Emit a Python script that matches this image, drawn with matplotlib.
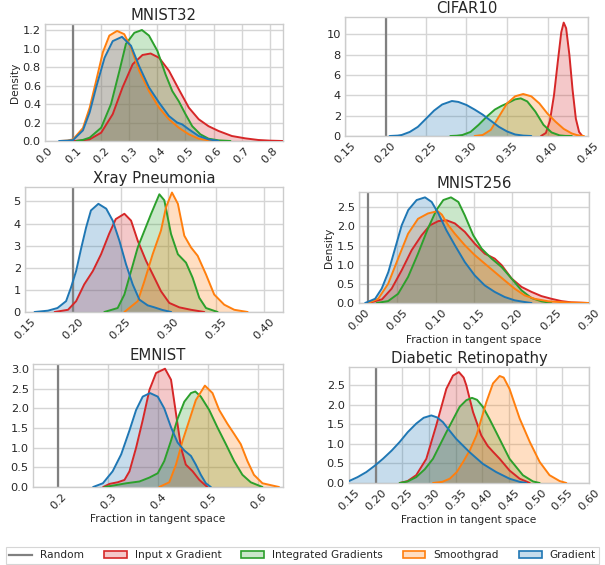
import matplotlib
matplotlib.use("Agg")
import matplotlib.pyplot as plt
from matplotlib.lines import Line2D
from matplotlib.patches import Patch

# ---------------- data ----------------
METHODS = ["Input x Gradient", "Integrated Gradients", "Smoothgrad", "Gradient"]
COLORS = ["#d62728", "#2ca02c", "#ff7f0e", "#1f77b4"]
TITLES = ["MNIST32", "CIFAR10", "Xray Pneumonia", "MNIST256", "EMNIST", "Diabetic Retinopathy"]
RANDOM = [0.1, 0.2, 0.2, 0.0122, 0.2, 0.2]

# MNIST32
M32_IXG_X = [0.10, 0.125, 0.159, 0.20, 0.241, 0.276, 0.312, 0.347, 0.376, 0.406, 0.441, 0.476, 0.512, 0.547, 0.582, 0.618, 0.665, 0.712, 0.759, 0.80, 0.845]
M32_IXG_Y = [0.0, 0.005, 0.018, 0.09, 0.29, 0.58, 0.83, 0.93, 0.946, 0.90, 0.76, 0.56, 0.36, 0.235, 0.16, 0.108, 0.054, 0.029, 0.011, 0.004, 0.0]
M32_IG_X = [0.112, 0.135, 0.159, 0.20, 0.235, 0.265, 0.288, 0.318, 0.345, 0.37, 0.40, 0.429, 0.453, 0.476, 0.50, 0.524, 0.553, 0.582, 0.618, 0.66]
M32_IG_Y = [0.0, 0.012, 0.036, 0.144, 0.40, 0.76, 1.05, 1.17, 1.20, 1.14, 0.975, 0.72, 0.54, 0.43, 0.29, 0.16, 0.072, 0.025, 0.007, 0.0]
M32_SG_X = [0.053, 0.08, 0.10, 0.135, 0.159, 0.182, 0.206, 0.229, 0.2565, 0.282, 0.306, 0.335, 0.37, 0.406, 0.441, 0.476, 0.512, 0.547, 0.582, 0.61]
M32_SG_Y = [0.0, 0.005, 0.018, 0.14, 0.36, 0.65, 0.96, 1.14, 1.19, 1.155, 1.01, 0.76, 0.54, 0.36, 0.235, 0.144, 0.072, 0.025, 0.007, 0.0]
M32_GR_X = [0.05, 0.08, 0.10, 0.135, 0.159, 0.182, 0.212, 0.241, 0.274, 0.306, 0.335, 0.37, 0.406, 0.441, 0.47, 0.488, 0.512, 0.547, 0.582, 0.618]
M32_GR_Y = [0.0, 0.004, 0.01, 0.115, 0.31, 0.58, 0.90, 1.08, 1.126, 1.03, 0.81, 0.58, 0.415, 0.27, 0.20, 0.18, 0.126, 0.054, 0.018, 0.0]

# CIFAR10
C10_IXG_X = [0.392, 0.398, 0.403, 0.408, 0.413, 0.417, 0.420, 0.423, 0.427, 0.431, 0.435, 0.439, 0.443]
C10_IXG_Y = [0.0, 0.3, 1.5, 4.0, 7.5, 10.2, 11.15, 10.6, 8.0, 4.5, 1.7, 0.4, 0.0]
C10_IG_X = [0.28, 0.288, 0.295, 0.305, 0.315, 0.325, 0.335, 0.343, 0.35, 0.36, 0.367, 0.375, 0.385, 0.395, 0.405, 0.415, 0.422, 0.43]
C10_IG_Y = [0.0, 0.03, 0.1, 0.4, 1.1, 1.9, 2.6, 2.95, 3.2, 3.6, 3.7, 3.4, 2.4, 1.1, 0.35, 0.06, 0.01, 0.0]
C10_SG_X = [0.31, 0.32, 0.33, 0.34, 0.35, 0.36, 0.37, 0.38, 0.39, 0.40, 0.41, 0.42, 0.43, 0.436, 0.44, 0.445]
C10_SG_Y = [0.0, 0.1, 0.6, 1.9, 3.2, 3.9, 4.13, 3.9, 3.2, 2.2, 1.4, 0.7, 0.25, 0.1, 0.04, 0.0]
C10_GR_X = [0.205, 0.215, 0.22, 0.23, 0.24, 0.25, 0.26, 0.27, 0.282, 0.29, 0.30, 0.31, 0.32, 0.33, 0.34, 0.35, 0.36, 0.37, 0.38]
C10_GR_Y = [0.0, 0.04, 0.1, 0.4, 0.9, 1.7, 2.5, 3.1, 3.44, 3.35, 3.05, 2.6, 2.1, 1.5, 0.9, 0.45, 0.15, 0.04, 0.0]

# Xray Pneumonia
XR_IXG_X = [0.181, 0.195, 0.2035, 0.212, 0.221, 0.2296, 0.238, 0.245, 0.254, 0.261, 0.268, 0.2767, 0.2854, 0.2923, 0.301, 0.3115, 0.3237, 0.3376]
XR_IXG_Y = [0.0, 0.10, 0.49, 1.25, 1.85, 2.61, 3.53, 4.20, 4.44, 4.13, 3.22, 2.31, 1.55, 0.94, 0.41, 0.21, 0.10, 0.0]
XR_IG_X = [0.233, 0.247, 0.254, 0.261, 0.268, 0.275, 0.282, 0.2906, 0.2958, 0.3028, 0.31, 0.3185, 0.3254, 0.3324, 0.3394, 0.3516]
XR_IG_Y = [0.0, 0.18, 0.79, 1.85, 2.92, 3.68, 4.44, 5.32, 5.05, 3.53, 2.61, 2.23, 1.55, 0.64, 0.18, 0.0]
XR_SG_X = [0.254, 0.268, 0.275, 0.2836, 0.2923, 0.2976, 0.3038, 0.31, 0.3167, 0.3237, 0.3307, 0.3394, 0.348, 0.3585, 0.369, 0.383]
XR_SG_Y = [0.0, 0.49, 1.40, 2.61, 3.68, 4.74, 5.40, 4.89, 3.45, 2.92, 2.54, 1.70, 0.79, 0.33, 0.10, 0.0]
XR_GR_X = [0.16, 0.174, 0.184, 0.193, 0.198, 0.2035, 0.209, 0.214, 0.219, 0.2268, 0.235, 0.2418, 0.2488, 0.2557, 0.2627, 0.2697, 0.2784, 0.2854, 0.294, 0.303]
XR_GR_Y = [0.0, 0.06, 0.18, 0.49, 1.09, 1.85, 2.92, 3.83, 4.59, 4.89, 4.67, 4.13, 3.22, 2.16, 1.25, 0.56, 0.30, 0.21, 0.09, 0.0]

# MNIST256
M256_IXG_X = [0.012, 0.03, 0.0426, 0.0557, 0.0687, 0.0817, 0.0926, 0.1035, 0.1143, 0.125, 0.138, 0.151, 0.164, 0.177, 0.186, 0.199, 0.212, 0.225, 0.238, 0.251, 0.264, 0.277, 0.30]
M256_IXG_Y = [0.0, 0.096, 0.375, 0.855, 1.38, 1.77, 2.03, 2.14, 2.16, 2.08, 1.86, 1.55, 1.29, 1.16, 0.99, 0.64, 0.42, 0.29, 0.18, 0.11, 0.05, 0.017, 0.0]
M256_IG_X = [0.023, 0.038, 0.051, 0.064, 0.077, 0.09, 0.101, 0.11, 0.12, 0.1296, 0.138, 0.149, 0.16, 0.173, 0.186, 0.199, 0.212, 0.225, 0.238, 0.251]
M256_IG_Y = [0.0, 0.05, 0.24, 0.68, 1.29, 1.95, 2.43, 2.69, 2.76, 2.64, 2.29, 1.77, 1.42, 1.16, 0.94, 0.64, 0.33, 0.13, 0.044, 0.0]
M256_SG_X = [0.012, 0.025, 0.038, 0.051, 0.064, 0.077, 0.09, 0.1026, 0.108, 0.1165, 0.125, 0.138, 0.151, 0.164, 0.177, 0.19, 0.203, 0.216, 0.229, 0.247, 0.269, 0.30]
M256_SG_Y = [0.0, 0.11, 0.50, 1.16, 1.81, 2.20, 2.34, 2.40, 2.31, 2.03, 1.81, 1.51, 1.25, 1.03, 0.81, 0.59, 0.375, 0.20, 0.11, 0.044, 0.017, 0.0]
M256_GR_X = [0.008, 0.021, 0.0296, 0.0383, 0.047, 0.0557, 0.0643, 0.0752, 0.0861, 0.0948, 0.1035, 0.114, 0.125, 0.138, 0.151, 0.164, 0.177, 0.19, 0.203, 0.216, 0.225]
M256_GR_Y = [0.0, 0.11, 0.375, 0.81, 1.42, 2.03, 2.43, 2.69, 2.76, 2.64, 2.34, 1.90, 1.51, 1.07, 0.72, 0.46, 0.29, 0.157, 0.07, 0.026, 0.0]

# EMNIST
EM_IXG_X = [0.29, 0.303, 0.319, 0.3326, 0.3426, 0.3558, 0.369, 0.3824, 0.3956, 0.4135, 0.4255, 0.4354, 0.4454, 0.455, 0.4686, 0.482, 0.498]
EM_IXG_Y = [0.0, 0.08, 0.12, 0.18, 0.40, 1.00, 1.70, 2.47, 2.90, 3.01, 2.73, 1.87, 1.00, 0.57, 0.40, 0.18, 0.0]
EM_IG_X = [0.293, 0.316, 0.336, 0.3625, 0.3824, 0.399, 0.412, 0.4255, 0.4387, 0.452, 0.4653, 0.474, 0.485, 0.5017, 0.518, 0.535, 0.5515, 0.568, 0.5846, 0.608]
EM_IG_Y = [0.0, 0.05, 0.095, 0.14, 0.24, 0.35, 0.66, 1.18, 1.74, 2.17, 2.39, 2.43, 2.30, 1.96, 1.52, 1.09, 0.66, 0.31, 0.12, 0.0]
EM_SG_X = [0.402, 0.422, 0.4354, 0.4487, 0.462, 0.475, 0.4931, 0.5083, 0.5216, 0.538, 0.5515, 0.5647, 0.578, 0.591, 0.608, 0.641]
EM_SG_Y = [0.0, 0.12, 0.57, 1.18, 1.70, 2.21, 2.58, 2.39, 1.96, 1.61, 1.35, 1.09, 0.66, 0.31, 0.095, 0.0]
EM_GR_X = [0.27, 0.2895, 0.309, 0.326, 0.3426, 0.3558, 0.369, 0.3837, 0.399, 0.412, 0.4255, 0.4387, 0.452, 0.4653, 0.475, 0.485, 0.495, 0.505]
EM_GR_Y = [0.0, 0.095, 0.40, 0.83, 1.44, 1.96, 2.30, 2.39, 2.30, 2.00, 1.52, 1.13, 0.93, 0.79, 0.57, 0.31, 0.095, 0.0]

# Diabetic Retinopathy
DR_IXG_X = [0.245, 0.26, 0.276, 0.295, 0.3137, 0.3325, 0.345, 0.356, 0.365, 0.37, 0.3825, 0.398, 0.41, 0.42, 0.4325, 0.451, 0.47, 0.489]
DR_IXG_Y = [0.0, 0.05, 0.2, 0.62, 1.48, 2.41, 2.75, 2.84, 2.7, 2.5, 1.82, 1.22, 0.95, 0.8, 0.62, 0.32, 0.11, 0.0]
DR_IG_X = [0.245, 0.26, 0.276, 0.292, 0.3075, 0.3325, 0.3575, 0.37, 0.3806, 0.39, 0.401, 0.413, 0.426, 0.451, 0.476, 0.495, 0.5075]
DR_IG_Y = [0.0, 0.04, 0.15, 0.35, 0.62, 1.3, 1.95, 2.12, 2.18, 2.13, 1.95, 1.65, 1.3, 0.62, 0.2, 0.04, 0.0]
DR_SG_X = [0.3075, 0.325, 0.339, 0.352, 0.364, 0.377, 0.389, 0.4075, 0.42, 0.4325, 0.44, 0.451, 0.46, 0.47, 0.489, 0.5075, 0.526, 0.545, 0.5575]
DR_SG_Y = [0.0, 0.03, 0.11, 0.28, 0.54, 0.85, 1.22, 2.07, 2.55, 2.74, 2.7, 2.41, 2.05, 1.65, 1.05, 0.54, 0.2, 0.05, 0.0]
DR_GR_X = [0.13, 0.15, 0.166, 0.1825, 0.198, 0.2137, 0.23, 0.245, 0.26, 0.276, 0.29, 0.3044, 0.315, 0.326, 0.338, 0.351, 0.376, 0.401, 0.426, 0.451, 0.47, 0.4825]
DR_GR_Y = [0.02, 0.05, 0.15, 0.28, 0.44, 0.62, 0.83, 1.05, 1.30, 1.52, 1.67, 1.73, 1.68, 1.56, 1.35, 1.13, 0.79, 0.49, 0.28, 0.11, 0.03, 0.0]

# axis setup (limits / ticks)
XLIMS = [(0.0, 0.847), (0.15, 0.449), (0.15, 0.42), (0.0, 0.30), (0.15, 0.649), (0.15, 0.60)]
XTICKS = [[0.0, 0.1, 0.2, 0.3, 0.4, 0.5, 0.6, 0.7, 0.8],
          [0.15, 0.20, 0.25, 0.30, 0.35, 0.40, 0.45],
          [0.15, 0.20, 0.25, 0.30, 0.35, 0.40],
          [0.00, 0.05, 0.10, 0.15, 0.20, 0.25, 0.30],
          [0.2, 0.3, 0.4, 0.5, 0.6],
          [0.15, 0.20, 0.25, 0.30, 0.35, 0.40, 0.45, 0.50, 0.55, 0.60]]
XFMT = ["%.1f", "%.2f", "%.2f", "%.2f", "%.1f", "%.2f"]
YLIMS = [(0, 1.265), (0, 11.7), (0, 5.65), (0, 2.90), (0, 3.13), (0, 2.97)]
YTICKS = [[0.0, 0.2, 0.4, 0.6, 0.8, 1.0, 1.2],
          [0, 2, 4, 6, 8, 10],
          [0, 1, 2, 3, 4, 5],
          [0.0, 0.5, 1.0, 1.5, 2.0, 2.5],
          [0.0, 0.5, 1.0, 1.5, 2.0, 2.5, 3.0],
          [0.0, 0.5, 1.0, 1.5, 2.0, 2.5]]
YFMT = ["%.1f", "%d", "%d", "%.1f", "%.1f", "%.1f"]
YLABEL = [True, False, False, True, False, False]
XLABEL = [False, False, False, True, True, True]

CURVES = [
    [(M32_IXG_X, M32_IXG_Y), (M32_IG_X, M32_IG_Y), (M32_SG_X, M32_SG_Y), (M32_GR_X, M32_GR_Y)],
    [(C10_IXG_X, C10_IXG_Y), (C10_IG_X, C10_IG_Y), (C10_SG_X, C10_SG_Y), (C10_GR_X, C10_GR_Y)],
    [(XR_IXG_X, XR_IXG_Y), (XR_IG_X, XR_IG_Y), (XR_SG_X, XR_SG_Y), (XR_GR_X, XR_GR_Y)],
    [(M256_IXG_X, M256_IXG_Y), (M256_IG_X, M256_IG_Y), (M256_SG_X, M256_SG_Y), (M256_GR_X, M256_GR_Y)],
    [(EM_IXG_X, EM_IXG_Y), (EM_IG_X, EM_IG_Y), (EM_SG_X, EM_SG_Y), (EM_GR_X, EM_GR_Y)],
    [(DR_IXG_X, DR_IXG_Y), (DR_IG_X, DR_IG_Y), (DR_SG_X, DR_SG_Y), (DR_GR_X, DR_GR_Y)],
]

# axes boxes in pixels (left, top, right, bottom)
BOXES = [(45, 24, 283, 141), (345, 17, 588, 136),
         (25, 187, 283, 312), (359, 192, 589, 303),
         (33, 364, 283, 487), (349, 367, 589, 483)]

W, H = 605, 565
TEXT = "#262626"
GRID = "#d5d5d5"

plt.rcParams["font.family"] = ["DejaVu Sans"]
fig = plt.figure(figsize=(W / 100, H / 100), dpi=100)

for i in range(6):
    l, t, r, b = BOXES[i]
    ax = fig.add_axes([l / W, 1 - b / H, (r - l) / W, (b - t) / H])
    ax.set_facecolor("white")
    ax.set_axisbelow(True)
    ax.grid(True, color=GRID, linewidth=1.0)
    for s in ax.spines.values():
        s.set_color("#cccccc")
        s.set_linewidth(1.0)
    ax.axvline(RANDOM[i], color="#808080", linewidth=1.6, zorder=2)
    for (xs, ys), c in zip(CURVES[i], COLORS):
        ax.fill_between(xs, ys, 0, color=c, alpha=0.25, linewidth=0, zorder=1)
        ax.plot(xs, ys, color=c, linewidth=1.4, zorder=3,
                solid_joinstyle="round", solid_capstyle="round")
    ax.set_xlim(*XLIMS[i])
    ax.set_ylim(*YLIMS[i])
    ax.set_xticks(XTICKS[i])
    ax.set_xticklabels([XFMT[i] % v for v in XTICKS[i]], rotation=45)
    ax.set_yticks(YTICKS[i])
    ax.set_yticklabels([YFMT[i] % v for v in YTICKS[i]])
    ax.tick_params(axis="both", length=0, pad=3, labelsize=8.2, colors=TEXT)
    ax.set_title(TITLES[i], fontsize=10.7, color=TEXT, pad=3)
    if YLABEL[i]:
        ax.set_ylabel("Density", fontsize=7.6, color=TEXT, labelpad=2)
    if XLABEL[i]:
        ax.set_xlabel("Fraction in tangent space", fontsize=7.6, color=TEXT, labelpad=2)

handles = [Line2D([0], [0], color="#808080", linewidth=1.6)]
for m, c in zip(METHODS, COLORS):
    handles.append(Patch(facecolor=(matplotlib.colors.to_rgba(c, 0.25)), edgecolor=c, linewidth=1.2))
labels = ["Random"] + METHODS
leg = fig.legend(handles, labels, loc="lower center", ncol=5, bbox_to_anchor=(0.5, 0.0015),
                 fontsize=7.6, frameon=True, fancybox=False, borderpad=0.35,
                 columnspacing=1.9, handlelength=2.15, handletextpad=0.75, borderaxespad=0.0)
leg.get_frame().set_edgecolor("#cccccc")
leg.get_frame().set_linewidth(0.8)
for t in leg.get_texts():
    t.set_color(TEXT)

fig.savefig("out.png", dpi=100)
